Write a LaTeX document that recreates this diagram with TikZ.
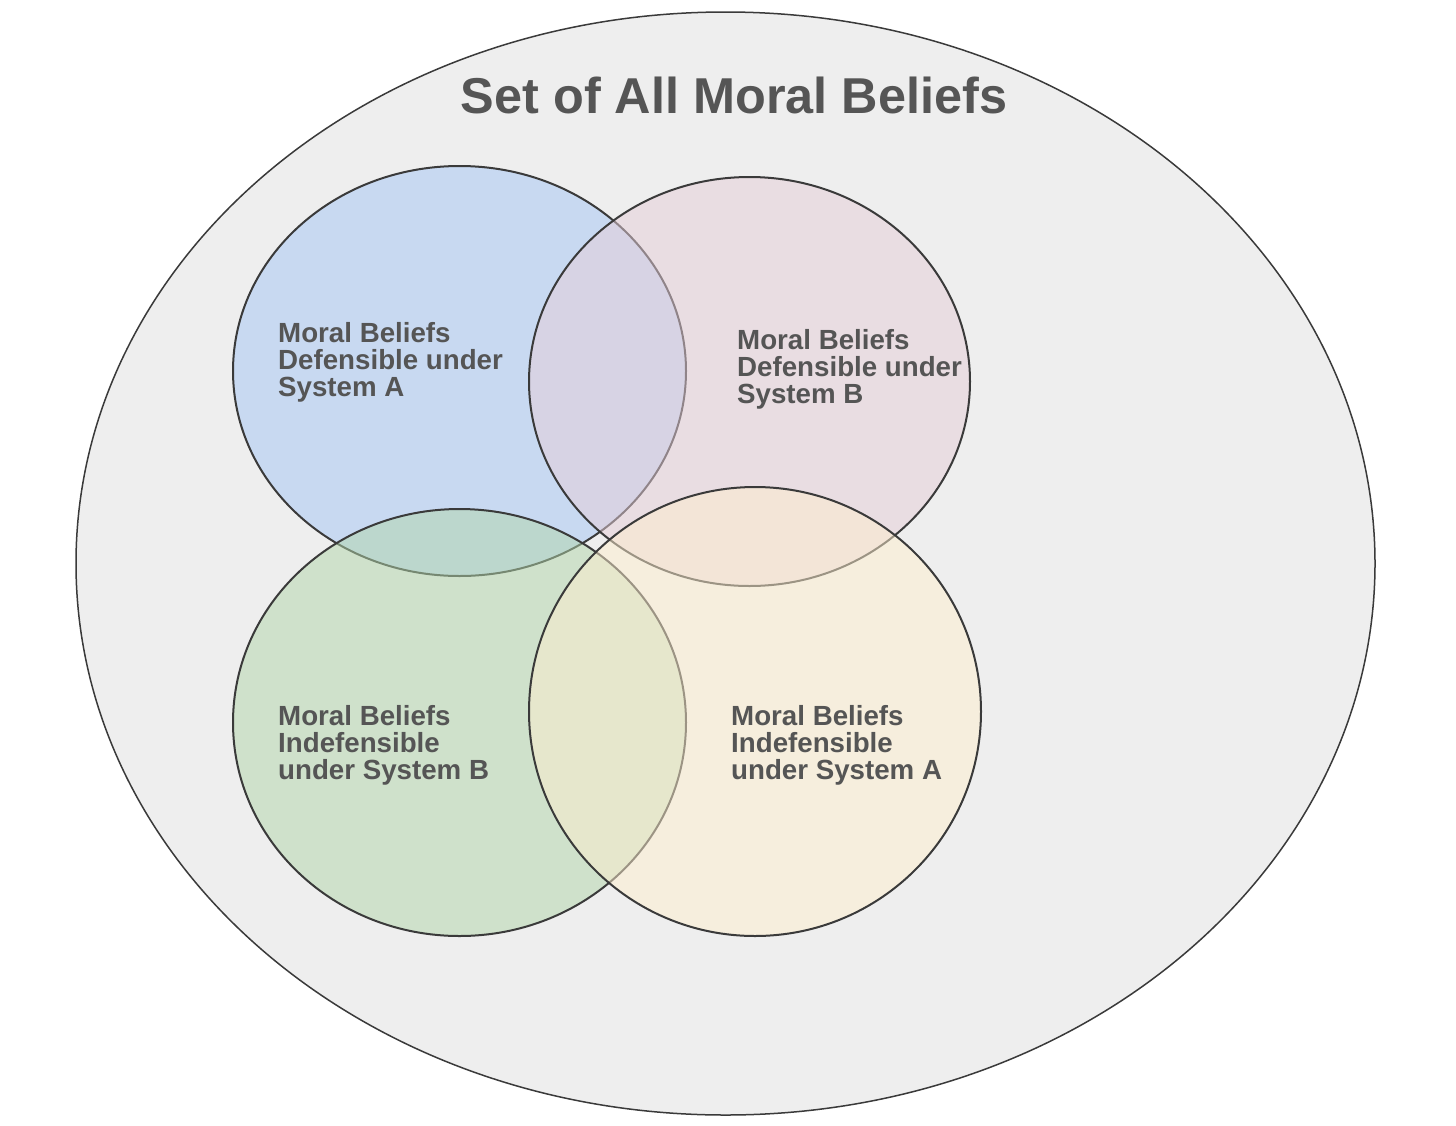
\documentclass[tikz,border=0pt]{standalone}
\usepackage{fontspec}
\setmainfont{Liberation Sans}
\definecolor{bgout}{HTML}{EEEEEE}
\definecolor{edge}{HTML}{3A3A3A}
\definecolor{txt}{HTML}{555555}
\definecolor{cblue}{RGB}{164,198,244}
\definecolor{cpink}{RGB}{230,206,216}
\definecolor{cgreen}{RGB}{178,214,170}
\definecolor{cyellow}{RGB}{254,238,206}
\begin{document}
\begin{tikzpicture}[x=1pt,y=-1pt,
  setbox/.style={draw=edge, line width=2pt, fill opacity=0.5},
  lbl/.style={anchor=north west, inner sep=0pt, align=left, text=txt,
    font=\fontsize{27.7}{27}\selectfont\bfseries}]
\useasboundingbox (0,0) rectangle (1456,1125);
\fill[white] (0,0) rectangle (1456,1125);
\path[draw=edge, line width=1.5pt, fill=bgout] (725.5,563.5) ellipse [x radius=649.5, y radius=551.5];
\node[anchor=base, inner sep=0pt, text=txt, font=\fontsize{50.4}{60}\selectfont\bfseries] (title) at (734,113) {Set of All Moral Beliefs};
\path[setbox, fill=cblue] (459.5,371) ellipse [x radius=226.5, y radius=205];
\path[setbox, fill=cpink] (749.5,381.5) ellipse [x radius=220.5, y radius=204.5];
\path[setbox, fill=cgreen] (459.5,722.5) ellipse [x radius=226.5, y radius=213.5];
\path[setbox, fill=cyellow] (755,711.5) ellipse [x radius=226, y radius=224.5];
\node[lbl] (la) at (278,322.3) {Moral Beliefs\\Defensible under\\System A};
\node[lbl] (lb) at (737,329.3) {Moral Beliefs\\Defensible under\\System B};
\node[lbl] (lg) at (278,705.3) {Moral Beliefs\\Indefensible\\under System B};
\node[lbl] (ly) at (731,705.3) {Moral Beliefs\\Indefensible\\under System A};
\end{tikzpicture}
\end{document}
